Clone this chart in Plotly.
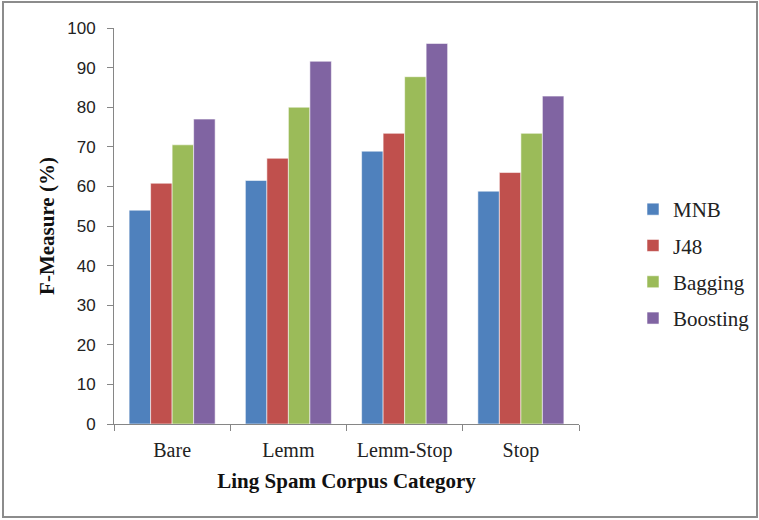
import plotly.graph_objects as go

# Ling Spam corpus categories and F-measure (%) per classifier
categories = ["Bare", "Lemm", "Lemm-Stop", "Stop"]
mnb = [54.0, 61.5, 68.9, 58.8]
j48 = [60.8, 67.1, 73.4, 63.5]
bagging = [70.5, 80.0, 87.7, 73.4]
boosting = [77.0, 91.6, 96.1, 82.8]

series = [
    ("MNB", mnb, "#4F81BD"),
    ("J48", j48, "#C0504D"),
    ("Bagging", bagging, "#9BBB59"),
    ("Boosting", boosting, "#8064A2"),
]

serif = "Liberation Serif"

fig = go.Figure()
for name, vals, color in series:
    fig.add_trace(go.Bar(
        x=categories, y=vals, name=name, legendgroup=name,
        marker=dict(color=color, line=dict(color="rgba(255,255,255,0.55)", width=1)),
    ))

# plot area geometry (pixels)
W, H = 759, 520
L, R, T, B = 114, 180, 28, 96
pw, ph = W - L - R, H - T - B

def px_x(x):
    return (x - L) / pw

def px_y(y):
    return (H - B - y) / ph

fig.update_layout(
    width=W, height=H,
    margin=dict(l=L, r=R, t=T, b=B, autoexpand=False),
    paper_bgcolor="white", plot_bgcolor="white",
    barmode="group", bargap=0.26, bargroupgap=0,
    font=dict(family=serif, color="#222", size=16),
    showlegend=True,
    legend=dict(
        x=px_x(633), y=px_y(189), xanchor="left", yanchor="top",
        font=dict(family=serif, size=21, color="#222"),
        tracegroupgap=6, bgcolor="rgba(0,0,0,0)",
    ),
    xaxis=dict(
        showline=True, linecolor="#868686", linewidth=1,
        ticks="outside", ticklen=6, tickcolor="#868686", tickson="boundaries",
        ticklabelstandoff=8,
        tickfont=dict(family=serif, size=20, color="#222"),
        title=dict(text="<b>Ling Spam Corpus Category</b>",
                   font=dict(family=serif, size=21, color="#111"), standoff=12),
        showgrid=False,
    ),
    yaxis=dict(
        range=[0, 100], dtick=10,
        showline=True, linecolor="#868686", linewidth=1,
        ticks="outside", ticklen=6, tickcolor="#868686",
        ticklabelstandoff=8,
        tickfont=dict(family="Liberation Sans", size=17, color="#222"),
        title=dict(text="<b>F-Measure (%)</b>",
                   font=dict(family=serif, size=21, color="#111"), standoff=6),
        showgrid=False, zeroline=False,
    ),
    shapes=[dict(
        type="rect", xref="paper", yref="paper",
        x0=px_x(3), x1=px_x(757), y0=px_y(517), y1=px_y(2),
        line=dict(color="#8c8c8c", width=2), fillcolor="rgba(0,0,0,0)", layer="below",
    )],
)

fig.write_html("out.html")
